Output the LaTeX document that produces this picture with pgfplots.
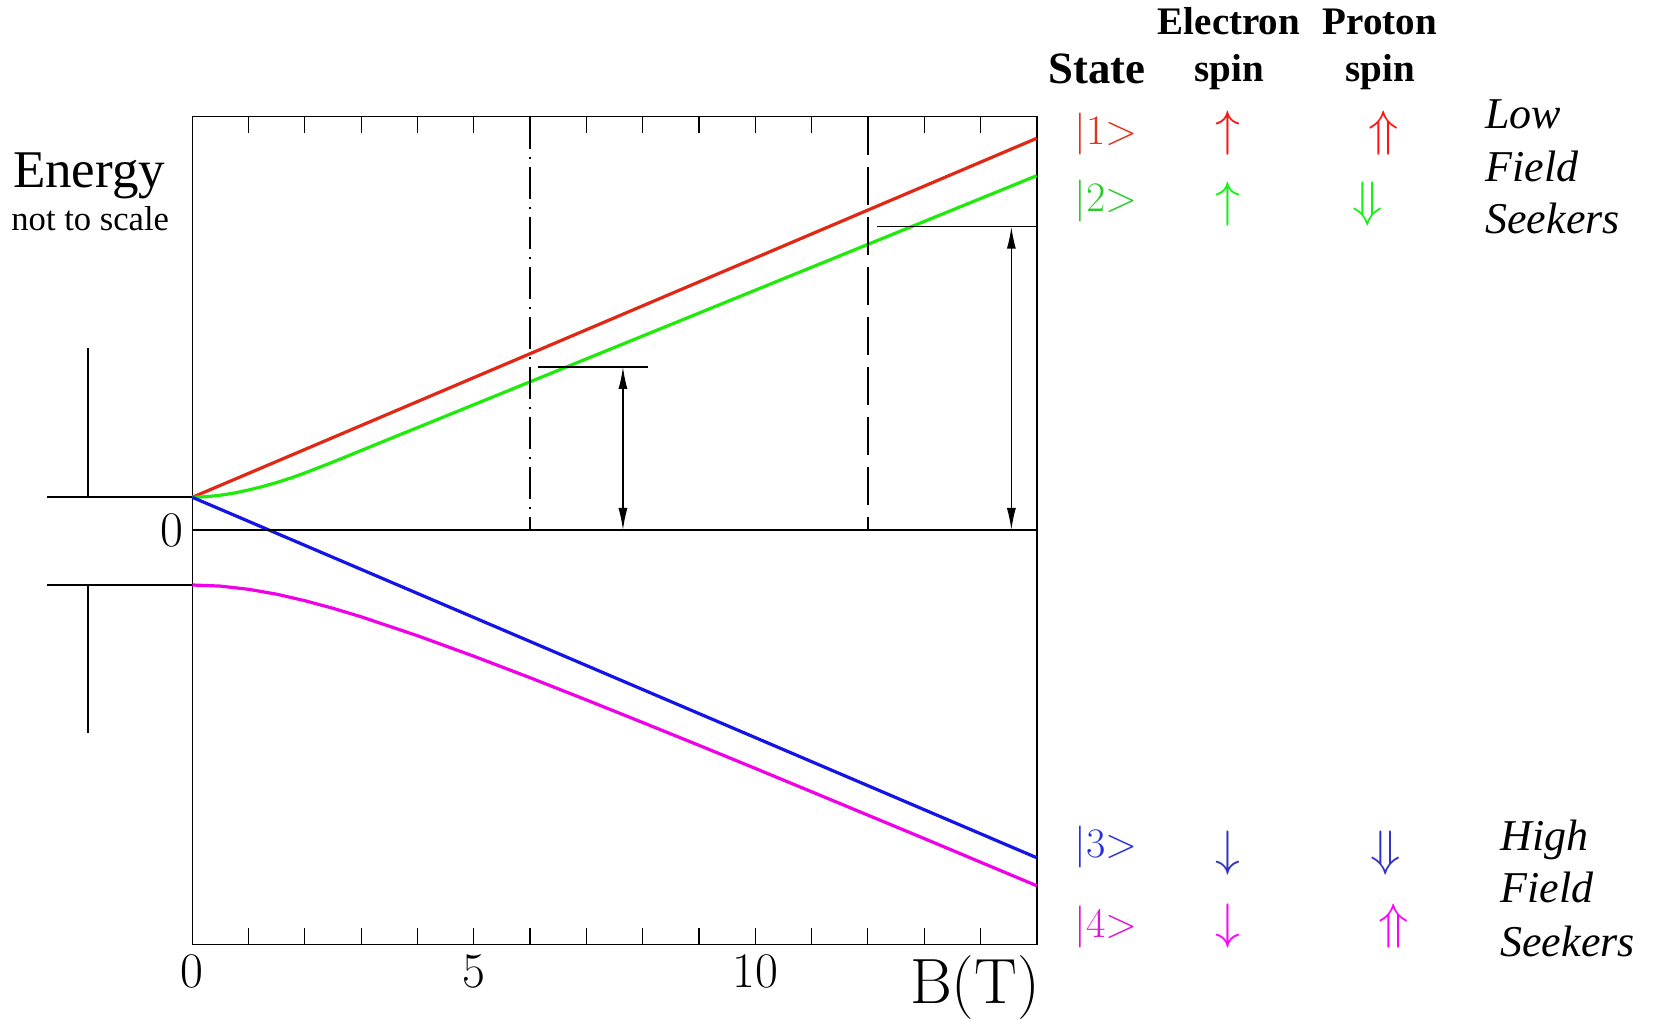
\documentclass[border=0pt]{standalone}
\usepackage{fontspec}
\usepackage{pgfplots}
\pgfplotsset{compat=1.18}
\usetikzlibrary{arrows.meta}
\newfontfamily\tnr{Liberation Serif}
\definecolor{cRed}{RGB}{225,40,20}
\definecolor{cGreen}{RGB}{30,235,10}
\definecolor{cBlue}{RGB}{20,20,230}
\definecolor{cMag}{RGB}{240,0,230}
\definecolor{tRed}{RGB}{225,50,30}
\definecolor{tGreen}{RGB}{40,205,40}
\definecolor{tBlue}{RGB}{40,50,220}
\definecolor{tMag}{RGB}{225,20,210}
\definecolor{aRed}{RGB}{255,20,20}
\definecolor{aGreen}{RGB}{20,240,20}
\definecolor{aBlue}{RGB}{50,50,200}
\definecolor{aMag}{RGB}{255,0,255}
\begin{document}
\begin{tikzpicture}
\useasboundingbox (0,0) rectangle (826.5pt,509pt);
\begin{axis}[
  at={(96.15pt,36.85pt)}, anchor=south west,
  scale only axis, width=422.2pt, height=413.8pt,
  xmin=0, xmax=15, ymin=-4.143, ymax=4.133,
  axis line style={line width=0.8pt},
  xtick={0,5,10}, minor xtick={1,2,...,14},
  xtick pos=both, xticklabel pos=lower, tick align=inside,
  major tick length=8pt, minor tick length=8pt,
  tick style={line width=0.6pt, black},
  ytick={0}, y tick style={draw=none},
  ticklabel style={font=\fontsize{25}{27}\selectfont},
  xticklabel style={yshift=-2pt},
  yticklabel style={xshift=-1pt},
  clip=false,
]
% state |1>
\addplot[cRed, line width=1.6pt] coordinates {(0,0.327) (15,3.917)};
% state |2>
\addplot[cGreen, line width=1.6pt] coordinates {
 (0,0.327) (0.25,0.333) (0.5,0.348) (0.75,0.370) (1.0,0.400) (1.25,0.435)
 (1.5,0.475) (1.75,0.520) (2.0,0.570) (2.5,0.680) (3.0,0.795) (3.5,0.910)
 (4,1.024) (5,1.253) (6,1.482) (7,1.711) (8,1.940) (9,2.169) (10,2.398)
 (11,2.627) (12,2.856) (13,3.085) (14,3.314) (15,3.543)};
% state |3>
\addplot[cBlue, line width=1.6pt] coordinates {(0,0.327) (15,-3.277)};
% state |4>
\addplot[cMag, line width=1.6pt] coordinates {
 (0,-0.550) (0.5,-0.561) (1,-0.593) (1.5,-0.642) (2,-0.707) (2.5,-0.783)
 (3,-0.868) (4,-1.057) (5,-1.262) (6,-1.477) (7,-1.699) (8,-1.925)
 (9,-2.153) (10,-2.384) (11,-2.617) (12,-2.851) (13,-3.085) (14,-3.321) (15,-3.557)};
% zero line and field markers
\draw[line width=0.8pt] (axis cs:0,0) -- (axis cs:15,0);
\draw[line width=0.7pt, dash pattern=on 16pt off 4pt on 1pt off 4pt] (axis cs:6,4.133) -- (axis cs:6,0);
\draw[line width=0.7pt, dash pattern=on 19pt off 6pt] (axis cs:12,4.133) -- (axis cs:12,0);
% dimension arrows
\draw[line width=0.7pt] (axis cs:6.14,1.63) -- (axis cs:8.10,1.63);
\draw[line width=0.7pt, {Latex[length=11pt,width=4.5pt]}-{Latex[length=11pt,width=4.5pt]}] (axis cs:7.65,0) -- (axis cs:7.65,1.63);
\draw[line width=0.7pt] (axis cs:12.16,3.033) -- (axis cs:15.02,3.033);
\draw[line width=0.7pt, {Latex[length=11pt,width=4.5pt]}-{Latex[length=11pt,width=4.5pt]}] (axis cs:14.55,0) -- (axis cs:14.55,3.033);
% left hyperfine marks
\draw[line width=0.8pt] (axis cs:-2.58,0.327) -- (axis cs:0,0.327);
\draw[line width=0.8pt] (axis cs:-2.58,-0.55) -- (axis cs:0,-0.55);
\draw[line width=0.9pt] (axis cs:-1.847,0.327) -- (axis cs:-1.847,1.817);
\draw[line width=0.9pt] (axis cs:-1.847,-0.55) -- (axis cs:-1.847,-2.033);
\end{axis}
\begin{scope}[x=0.5pt,y=-0.5pt,yshift=509pt]
\node[anchor=base west, inner sep=0] at (12.6,187.6) {\tnr\fontsize{26.5}{30}\selectfont Energy};
\node[anchor=base west, inner sep=0] at (11,231) {\tnr\fontsize{17.3}{20}\selectfont not to scale};
\node[anchor=center, inner sep=0] at (975,988) {\fontsize{32}{35}\selectfont B(T)};
\node[anchor=base west, inner sep=0] at (1048,83.5) {\tnr\bfseries\fontsize{22.4}{26}\selectfont State};
\node[anchor=base, inner sep=0] at (1229,35) {\tnr\bfseries\fontsize{19.5}{22}\selectfont Electron};
\node[anchor=base, inner sep=0] at (1229,82) {\tnr\bfseries\fontsize{19.5}{22}\selectfont spin};
\node[anchor=base, inner sep=0] at (1380,35) {\tnr\bfseries\fontsize{19.5}{22}\selectfont Proton};
\node[anchor=base, inner sep=0] at (1380,82) {\tnr\bfseries\fontsize{19.5}{22}\selectfont spin};
% state labels
\node[anchor=west, inner sep=0, text=tRed] at (1074,134) {\fontsize{21}{24}\selectfont |1>};
\node[anchor=west, inner sep=0, text=tGreen] at (1074,201) {\fontsize{21}{24}\selectfont |2>};
\node[anchor=west, inner sep=0, text=tBlue] at (1074,847) {\fontsize{21}{24}\selectfont |3>};
\node[anchor=west, inner sep=0, text=tMag] at (1074,927) {\fontsize{21}{24}\selectfont |4>};
% spins
\node[inner sep=0, text=aRed] at (1228,133) {\fontsize{24}{26}\selectfont$\uparrow$};
\node[inner sep=0, text=aRed] at (1384,133) {\fontsize{24}{26}\selectfont$\Uparrow$};
\node[inner sep=0, text=aGreen] at (1228,204) {\fontsize{24}{26}\selectfont$\uparrow$};
\node[inner sep=0, text=aGreen] at (1368,204) {\fontsize{24}{26}\selectfont$\Downarrow$};
\node[inner sep=0, text=aBlue] at (1228,853) {\fontsize{24}{26}\selectfont$\downarrow$};
\node[inner sep=0, text=aBlue] at (1386,853) {\fontsize{24}{26}\selectfont$\Downarrow$};
\node[inner sep=0, text=aMag] at (1228,926) {\fontsize{24}{26}\selectfont$\downarrow$};
\node[inner sep=0, text=aMag] at (1394,926) {\fontsize{24}{26}\selectfont$\Uparrow$};
% seekers
\node[anchor=base west, inner sep=0] at (1485,128.5) {\tnr\itshape\fontsize{22}{24}\selectfont Low};
\node[anchor=base west, inner sep=0] at (1485,182) {\tnr\itshape\fontsize{22}{24}\selectfont Field};
\node[anchor=base west, inner sep=0] at (1485,234) {\tnr\itshape\fontsize{22}{24}\selectfont Seekers};
\node[anchor=base west, inner sep=0] at (1500,850) {\tnr\itshape\fontsize{22}{24}\selectfont High};
\node[anchor=base west, inner sep=0] at (1500,902) {\tnr\itshape\fontsize{22}{24}\selectfont Field};
\node[anchor=base west, inner sep=0] at (1500,956) {\tnr\itshape\fontsize{22}{24}\selectfont Seekers};
\end{scope}
\end{tikzpicture}
\end{document}
